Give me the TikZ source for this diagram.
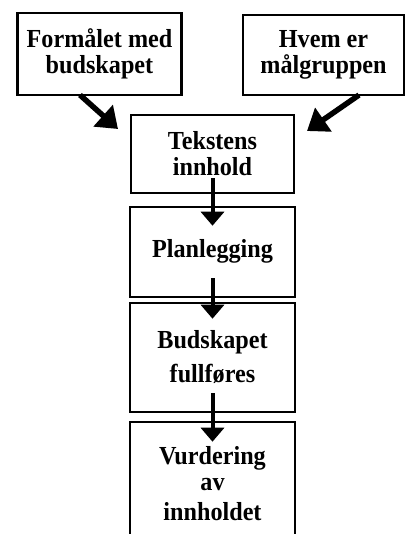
\documentclass[tikz,border=0pt]{standalone}
\usepackage{fontspec}
\setmainfont{Liberation Serif}[FakeStretch=0.93]
\usetikzlibrary{arrows.meta}
\begin{document}
\begin{tikzpicture}[x=1pt,y=-1pt,
  box/.style={draw=black, line width=2.6pt, fill=white, align=center,
    font=\fontsize{26}{26}\selectfont\bfseries, inner sep=0pt},
  arr/.style={line width=4pt, -{Triangle[width=23pt,length=14pt]}},
  darr/.style={line width=5.5pt, -{Triangle[width=28pt,length=20pt]}}]
\useasboundingbox (0,0) rectangle (406,534);
\clip (0,0) rectangle (406,534);
\fill[white] (0,0) rectangle (406,534);
% boxes
\node[box, minimum width=164pt, minimum height=82pt] (a) at (99.5,54) {Formålet med\\budskapet};
\node[box, minimum width=161pt, minimum height=80pt] (b) at (323.5,55) {Hvem er\\målgruppen};
\node[box, minimum width=163pt, minimum height=78pt] (t) at (212.5,154) {Tekstens\\innhold};
\node[box, minimum width=165pt, minimum height=90pt] (p) at (212.5,252) {\raisebox{8pt}{Planlegging}};
\node[box, minimum width=165pt, minimum height=109pt] (u) at (212.5,357.5) {Budskapet\\[8pt]fullføres};
\node[box, minimum width=165pt, minimum height=123pt] (v) at (212.5,483.5) {Vurdering\\av\\[4pt]innholdet};
% connectors
\coordinate (a1) at (80,95);
\coordinate (a2) at (118,129);
\coordinate (b1) at (359,95);
\coordinate (b2) at (307,131);
\draw[darr] (a1) -- (a2);
\draw[darr] (b1) -- (b2);
\draw[arr] ([yshift=16pt]t.south) -- ([yshift=-20pt]p.north);
\draw[arr] ([yshift=20pt]p.south) -- ([yshift=-17pt]u.north);
\draw[arr] ([yshift=20pt]u.south) -- ([yshift=-21pt]v.north);
\end{tikzpicture}
\end{document}
